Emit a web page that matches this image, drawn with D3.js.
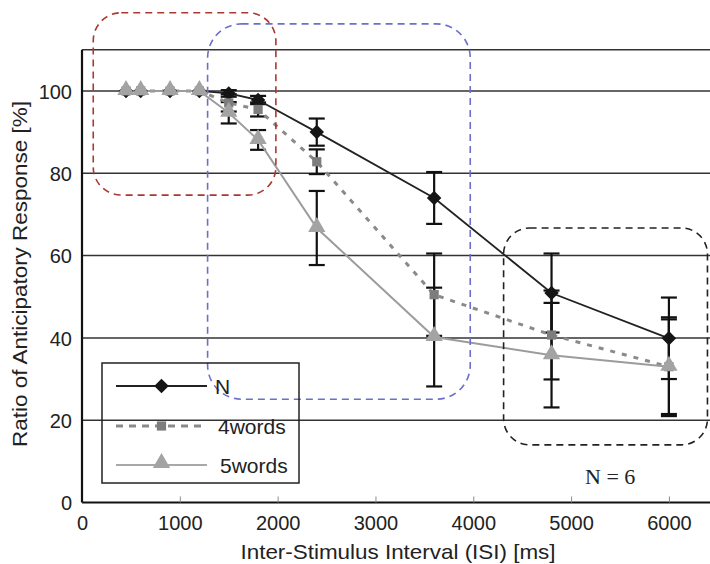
<!DOCTYPE html>
<html>
<head>
<meta charset="utf-8">
<script src="https://cdn.jsdelivr.net/npm/d3@7"></script>
<style>
  body { margin: 0; background: #fff; }
  svg { font-family: 'Liberation Sans', Arial, sans-serif; }
</style>
</head>
<body>
<svg width="710" height="564"></svg>
<script>
// ISI values (ms) and response ratios (%) per condition
var isi = [450, 600, 900, 1200, 1500, 1800, 2400, 3600, 4800, 6000];

var nVals  = [100, 100, 100, 100, 99.4, 97.8, 90, 74, 50.9, 39.9];
var nErr   = [0, 0, 0, 0, 0.8, 1, 3.3, 6.3, 9.6, 9.9];
var w4Vals = [100, 100, 100, 100, 97.1, 95.5, 82.8, 50.5, 40.7, 33];
var w4Err  = [0, 0, 0, 0, 2.1, 1.7, 3, 10, 10.8, 12];
var w5Vals = [100, 100, 100, 100, 94.7, 88.1, 66.7, 40.2, 35.8, 33];
var w5Err  = [0, 0, 0, 0, 2.6, 2.4, 9, 12, 12.7, 11.5];

var seriesNames = ['N', '4words', '5words'];
var xTicks = [0, 1000, 2000, 3000, 4000, 5000, 6000];
var yTicks = [0, 20, 40, 60, 80, 100];

// dashed highlight boxes, in data units
var boxX0 = [115, 1284, 4310];
var boxX1 = [1982, 3969, 6394];
var boxYTop = [119, 116.3, 66.7];
var boxYBot = [74.7, 25.1, 14];
var boxColors = ['#a83a32', '#6a6fcc', '#222'];
var boxRadius = [28, 34, 26];

var scaleX = d3.scaleLinear().domain([0, 6420]).range([82, 710]);
var scaleY = d3.scaleLinear().domain([0, 110]).range([502.5, 49.8]);

var svg = d3.select('svg');

// horizontal grid lines, including the top frame at 110
svg.append('g')
    .selectAll('line')
    .data([20, 40, 60, 80, 100, 110])
    .enter()
    .append('line')
    .attr('x1', scaleX(0))
    .attr('x2', 710)
    .attr('y1', function(d){ return scaleY(d); })
    .attr('y2', function(d){ return scaleY(d); })
    .attr('stroke', '#333')
    .attr('stroke-width', 1.5);

// axes
var xAxis = svg.append('g')
    .attr('transform', 'translate(0,' + scaleY(0) + ')')
    .call(d3.axisBottom(scaleX).tickValues(xTicks).tickFormat(d3.format('d')).tickSize(-6).tickPadding(9));
var yAxis = svg.append('g')
    .attr('transform', 'translate(' + scaleX(0) + ',0)')
    .call(d3.axisLeft(scaleY).tickValues(yTicks).tickSize(0).tickPadding(10));

[xAxis, yAxis].forEach(function(ax){
    ax.select('.domain').attr('stroke', '#111').attr('stroke-width', 2.2);
    ax.selectAll('.tick line').attr('stroke', '#888');
    ax.selectAll('.tick text')
        .attr('font-family', "'Liberation Sans', Arial, sans-serif")
        .attr('font-size', 20)
        .attr('fill', '#222');
});
xAxis.select('.domain').attr('d', 'M' + scaleX(0) + ',0H710');
yAxis.select('.domain').attr('d', 'M0,' + scaleY(0) + 'V' + scaleY(110));
xAxis.selectAll('.tick text').attr('dy', '0.9em');
yAxis.selectAll('.tick text').attr('dy', '0.36em');

// error bars
var errSets = [
    {vals: nVals, err: nErr},
    {vals: w4Vals, err: w4Err},
    {vals: w5Vals, err: w5Err}
];
var errG = svg.append('g').attr('stroke', '#111').attr('stroke-width', 2.2);
errSets.forEach(function(s){
    isi.forEach(function(x, i){
        if (!s.err[i]) return;
        var cx = scaleX(x);
        var top = scaleY(s.vals[i] + s.err[i]);
        var bot = scaleY(s.vals[i] - s.err[i]);
        errG.append('line').attr('x1', cx).attr('x2', cx).attr('y1', top).attr('y2', bot);
        errG.append('line').attr('x1', cx - 8).attr('x2', cx + 8).attr('y1', top).attr('y2', top);
        errG.append('line').attr('x1', cx - 8).attr('x2', cx + 8).attr('y1', bot).attr('y2', bot);
    });
});

// series lines
var line = d3.line()
    .x(function(d){ return scaleX(d[0]); })
    .y(function(d){ return scaleY(d[1]); });

function pairs(vals) {
    return isi.map(function(x, i){ return [x, vals[i]]; });
}

svg.append('path')
    .attr('d', line(pairs(nVals)))
    .attr('fill', 'none')
    .attr('stroke', '#222')
    .attr('stroke-width', 1.8);

svg.append('path')
    .attr('d', line(pairs(w4Vals)))
    .attr('fill', 'none')
    .attr('stroke', '#8a8a8a')
    .attr('stroke-width', 3)
    .attr('stroke-dasharray', '5,7');

svg.append('path')
    .attr('d', line(pairs(w5Vals)))
    .attr('fill', 'none')
    .attr('stroke', '#9c9c9c')
    .attr('stroke-width', 2);

// markers (diamond = square turned 45 degrees)
var diamond = d3.symbol().type(d3.symbolSquare).size(105);
var square = d3.symbol().type(d3.symbolSquare).size(85);
var triangle = d3.symbol().type(d3.symbolTriangle).size(130);

svg.append('g')
    .selectAll('path')
    .data(pairs(nVals))
    .enter()
    .append('path')
    .attr('d', diamond)
    .attr('transform', function(d){ return 'translate(' + scaleX(d[0]) + ',' + scaleY(d[1]) + ') rotate(45)'; })
    .attr('fill', '#151515');

svg.append('g')
    .selectAll('path')
    .data(pairs(w4Vals))
    .enter()
    .append('path')
    .attr('d', square)
    .attr('transform', function(d){ return 'translate(' + scaleX(d[0]) + ',' + scaleY(d[1]) + ')'; })
    .attr('fill', '#7d7d7d');

svg.append('g')
    .selectAll('path')
    .data(pairs(w5Vals))
    .enter()
    .append('path')
    .attr('d', triangle)
    .attr('transform', function(d){ return 'translate(' + scaleX(d[0]) + ',' + (scaleY(d[1]) - 1) + ')'; })
    .attr('fill', '#a3a3a3');

// dashed highlight boxes
svg.append('g')
    .selectAll('rect')
    .data(boxX0)
    .enter()
    .append('rect')
    .attr('x', function(d){ return scaleX(d); })
    .attr('y', function(d, i){ return scaleY(boxYTop[i]); })
    .attr('width', function(d, i){ return scaleX(boxX1[i]) - scaleX(d); })
    .attr('height', function(d, i){ return scaleY(boxYBot[i]) - scaleY(boxYTop[i]); })
    .attr('rx', function(d, i){ return boxRadius[i]; })
    .attr('fill', 'none')
    .attr('stroke', function(d, i){ return boxColors[i]; })
    .attr('stroke-width', 1.6)
    .attr('stroke-dasharray', '7,5');

svg.append('text')
    .attr('x', 585)
    .attr('y', 484)
    .style('font-family', "'Liberation Serif', 'Times New Roman', serif")
    .attr('font-size', 22)
    .attr('fill', '#222')
    .text('N = 6');

// legend
var legend = svg.append('g');
legend.append('rect')
    .attr('x', 102)
    .attr('y', 363)
    .attr('width', 197)
    .attr('height', 120)
    .attr('fill', 'none')
    .attr('stroke', '#222')
    .attr('stroke-width', 1.5);

var legendY = [386, 426, 465];
var legendTextX = [215, 218, 220];
var legendStroke = ['#222', '#8a8a8a', '#a8a8a8'];
var legendDash = [null, '7,6', null];
var legendWidth = [1.8, 3, 2];
var legendSymbols = [diamond, square, triangle];
var legendRotate = [45, 0, 0];
var legendFill = ['#151515', '#7d7d7d', '#a3a3a3'];

seriesNames.forEach(function(name, i){
    legend.append('line')
        .attr('x1', 116).attr('x2', 207)
        .attr('y1', legendY[i]).attr('y2', legendY[i])
        .attr('stroke', legendStroke[i])
        .attr('stroke-width', legendWidth[i])
        .attr('stroke-dasharray', legendDash[i]);
    legend.append('path')
        .attr('d', legendSymbols[i])
        .attr('transform', 'translate(161.5,' + (legendY[i] - (i == 2 ? 2 : 0)) + ') rotate(' + legendRotate[i] + ')')
        .attr('fill', legendFill[i]);
    legend.append('text')
        .attr('x', legendTextX[i])
        .attr('y', legendY[i] + 7.5)
        .attr('font-size', 21)
        .attr('fill', '#222')
        .text(name);
});

// axis titles
svg.append('text')
    .attr('x', 398)
    .attr('y', 559)
    .attr('text-anchor', 'middle')
    .attr('font-size', 21)
    .attr('textLength', 315)
    .attr('lengthAdjust', 'spacingAndGlyphs')
    .attr('fill', '#222')
    .text('Inter-Stimulus Interval (ISI) [ms]');

svg.append('text')
    .attr('transform', 'translate(27,274) rotate(270)')
    .attr('text-anchor', 'middle')
    .attr('font-size', 21)
    .attr('textLength', 346)
    .attr('lengthAdjust', 'spacingAndGlyphs')
    .attr('fill', '#222')
    .text('Ratio of Anticipatory Response [%]');
</script>
</body>
</html>
